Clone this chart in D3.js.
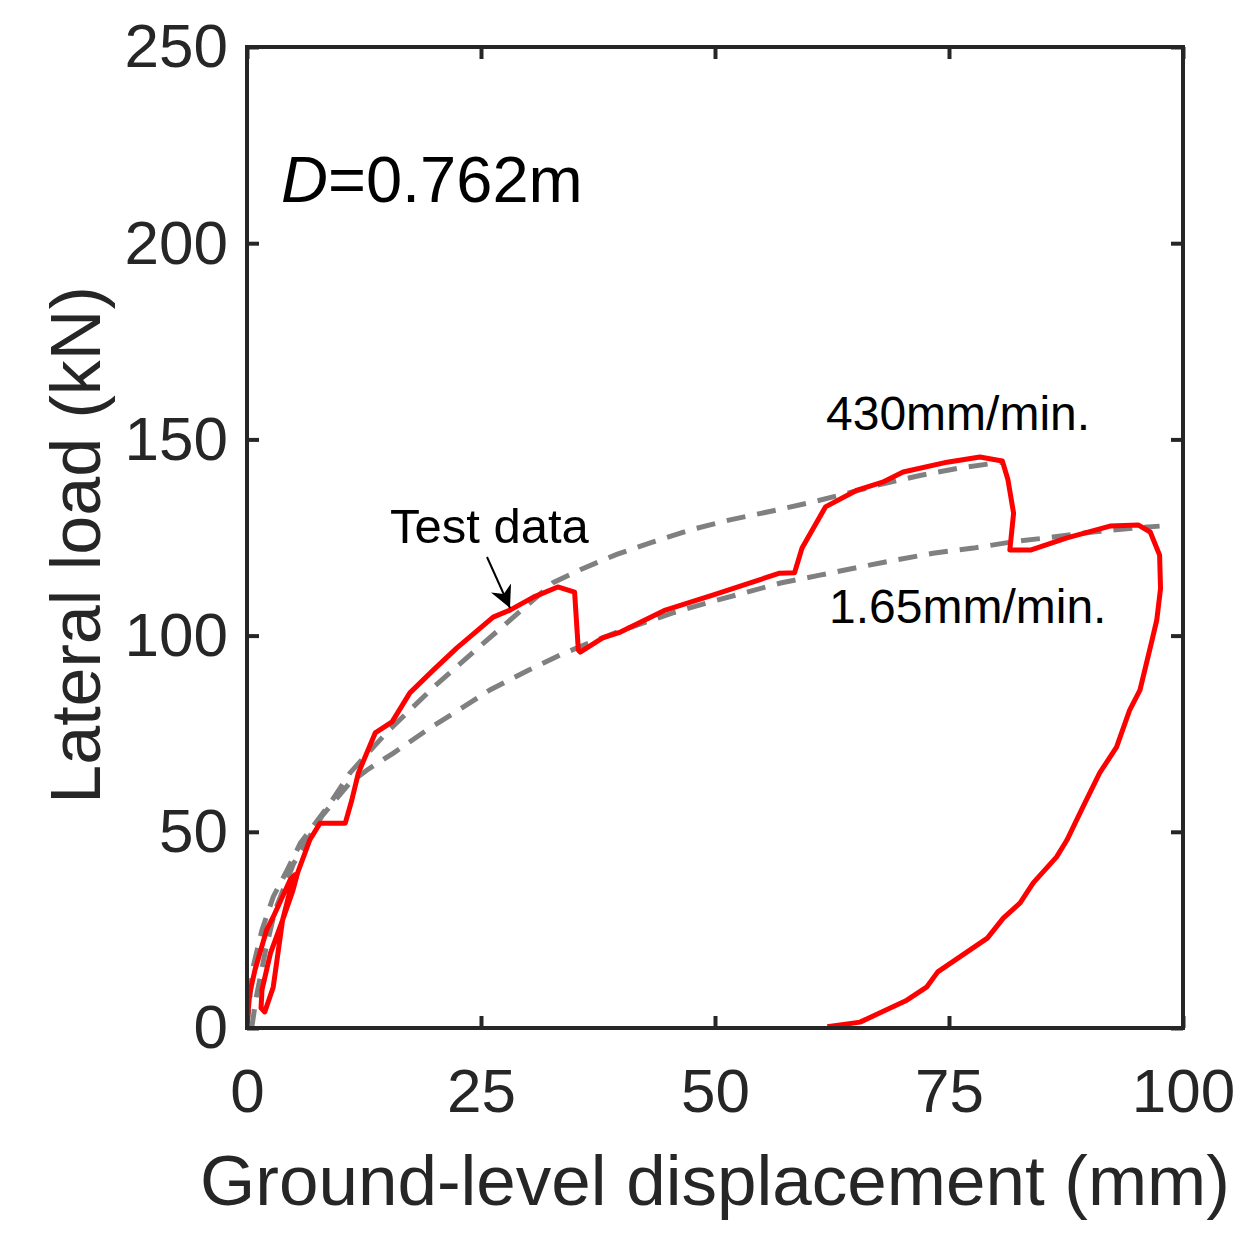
<!DOCTYPE html>
<html>
<head>
<meta charset="utf-8">
<script src="https://cdn.jsdelivr.net/npm/d3@7"></script>
<style>
  html, body { margin: 0; padding: 0; background: #fff; }
  svg { display: block; font-family: Arial, "Liberation Sans", sans-serif; }
</style>
</head>
<body>
<div id="chart"></div>
<script>
// test data, ground-level displacement (mm) vs lateral load (kN)
const testX = [0, 0.3, 0.85, 2.1, 2.8, 4.6, 5.1, 4.6, 3.8, 2.8, 1.9, 1.5, 1.6, 2.5, 3.8, 4.9, 5.4, 6.7, 7.8, 10.5,
  11.2, 11.9, 13.7, 15.5, 17.4, 19.9, 22.4, 26.3, 28.1, 30.6, 33.2, 35, 35.4, 35.6, 38, 39.9, 44.7, 50, 56.9, 58.5,
  59.3, 61.8, 65.2, 67.9, 70.1, 74.8, 78.3, 80.7, 81.3, 81.9, 81.5, 83.7, 87.6, 92.2, 95.2, 96.5, 97.5, 97.6, 97.2,
  96.7, 95.4, 94.3, 92.9, 91.1, 89.3, 87.6, 86.5, 84, 82.6, 80.8, 79.1, 73.8, 72.6, 70.5, 65.5, 62]
const testY = [1.3, 8.9, 14.8, 25, 28.3, 37.7, 39, 35, 27.5, 10.4, 4.1, 5.1, 9.7, 19, 27.5, 35, 39.5, 47.9, 52.2, 52.2,
  58.1, 65, 75.2, 78, 85.4, 91.2, 96.8, 104.7, 106.5, 109.8, 112.4, 111.1, 96.3, 95.8, 99.4, 100.9, 106.5, 110.5, 115.9, 116,
  122.3, 132.8, 137.1, 139.1, 141.7, 144.2, 145.5, 144.5, 139.7, 131.2, 121.8, 121.8, 124.9, 127.9, 128.2, 126.4, 120.5, 112, 104,
  98.9, 86.1, 81, 71.6, 65, 56.3, 47.9, 43.6, 37, 31.9, 28, 22.9, 14.3, 10.4, 7.1, 1.5, 0.3]

// fitted curve, 430 mm/min
const fastX = [0, 0.6, 1.6, 2.8, 4.3, 5.7, 8.9, 11, 15, 20, 25, 32.7, 35.6, 39.5, 43.4, 47.3, 51.6, 55.6, 59.8, 63.4, 67.3, 71.9, 75.9, 79.7, 80.8]
const fastY = [0, 15, 25, 33.4, 40.3, 47.1, 57.3, 65, 75.5, 87, 97.5, 113.5, 116.8, 120.7, 123.9, 126.9, 129.5, 131.5, 133.7, 135.8, 138.3, 140.8, 142.6, 143.9, 144.2]

// fitted curve, 1.65 mm/min
const slowX = [0.5, 1, 2, 3, 5, 8, 11, 12.8, 15.6, 19.2, 22.8, 26, 29.9, 33.4, 36, 40, 45.5, 49.1, 57, 61.2, 65.5, 69.4, 73.3, 77.6, 81.8, 86.1, 90.4, 94.7, 97.5]
const slowY = [0, 8, 20, 30, 42, 54, 62.5, 65.7, 70, 75.9, 81.3, 86.2, 91, 95, 97.6, 101.3, 105.8, 108.3, 113.4, 115.4, 117.5, 119.3, 121, 122.3, 123.9, 125.1, 126.4, 127.4, 127.9]

const xTicks = [0, 25, 50, 75, 100]
const yTicks = [0, 50, 100, 150, 200, 250]

const width = 1242
const height = 1233
const margin = { top: 47, right: 59, bottom: 205, left: 247 }

const svg = d3.create('svg')
  .attr('width', width)
  .attr('height', height)

const x = d3.scaleLinear().domain([0, 100]).range([margin.left, width - margin.right])
const y = d3.scaleLinear().domain([0, 250]).range([height - margin.bottom, margin.top])

const axisColor = '#262626'
const tickLen = 12

// clip to the plot box
svg.append('clipPath').attr('id', 'plot-clip')
  .append('rect')
  .attr('x', x(0)).attr('y', y(250))
  .attr('width', x(100) - x(0)).attr('height', y(0) - y(250))

const line = d3.line()

const plot = svg.append('g').attr('clip-path', 'url(#plot-clip)')

plot.append('path')
  .attr('d', line(fastX.map((v, i) => [x(v), y(fastY[i])])))
  .attr('fill', 'none')
  .attr('stroke', '#808080')
  .attr('stroke-width', 5)
  .attr('stroke-dasharray', '19 12')

plot.append('path')
  .attr('d', line(slowX.map((v, i) => [x(v), y(slowY[i])])))
  .attr('fill', 'none')
  .attr('stroke', '#808080')
  .attr('stroke-width', 5)
  .attr('stroke-dasharray', '19 12')

plot.append('path')
  .attr('d', line(testX.map((v, i) => [x(v), y(testY[i])])))
  .attr('fill', 'none')
  .attr('stroke', '#ff0000')
  .attr('stroke-width', 5)
  .attr('stroke-linejoin', 'round')

// axes (ticks point inward, mirrored on top/right)
const axisFont = 62
const gx = svg.append('g')
  .attr('transform', `translate(0,${y(0)})`)
  .call(d3.axisBottom(x).tickValues(xTicks).tickSizeInner(-tickLen).tickSizeOuter(0).tickPadding(40))
const gy = svg.append('g')
  .attr('transform', `translate(${x(0)},0)`)
  .call(d3.axisLeft(y).tickValues(yTicks).tickSizeInner(-tickLen).tickSizeOuter(0).tickPadding(19))
const gxTop = svg.append('g')
  .attr('transform', `translate(0,${y(250)})`)
  .call(d3.axisTop(x).tickValues(xTicks).tickSizeInner(-tickLen).tickSizeOuter(0).tickFormat(''))
const gyRight = svg.append('g')
  .attr('transform', `translate(${x(100)},0)`)
  .call(d3.axisRight(y).tickValues(yTicks).tickSizeInner(-tickLen).tickSizeOuter(0).tickFormat(''))

;[gx, gy, gxTop, gyRight].forEach(g => {
  g.select('.domain').remove()
  g.selectAll('line').attr('stroke', axisColor).attr('stroke-width', 4)
  g.selectAll('text')
    .attr('fill', axisColor)
    .attr('font-size', axisFont)
    .attr('font-family', 'Arial, "Liberation Sans", sans-serif')
})
gx.selectAll('text').attr('dy', '0.71em')

svg.append('rect')
  .attr('x', x(0)).attr('y', y(250))
  .attr('width', x(100) - x(0)).attr('height', y(0) - y(250))
  .attr('fill', 'none')
  .attr('stroke', axisColor)
  .attr('stroke-width', 4)

// axis titles
svg.append('text')
  .attr('x', 715)
  .attr('y', 1205)
  .attr('text-anchor', 'middle')
  .attr('font-size', 71)
  .attr('fill', axisColor)
  .text('Ground-level displacement (mm)')

svg.append('text')
  .attr('transform', `translate(100,545) rotate(-90)`)
  .attr('text-anchor', 'middle')
  .attr('font-size', 70)
  .attr('fill', axisColor)
  .text('Lateral load (kN)')

// annotations
const dLabel = svg.append('text')
  .attr('x', 281)
  .attr('y', 202)
  .attr('font-size', 65)
  .attr('fill', '#000')
dLabel.append('tspan').attr('font-style', 'italic').text('D')
dLabel.append('tspan').text('=0.762m')

svg.append('text')
  .attr('x', 826).attr('y', 430)
  .attr('font-size', 48).attr('fill', '#000')
  .text('430mm/min.')

svg.append('text')
  .attr('x', 829).attr('y', 623)
  .attr('font-size', 48).attr('fill', '#000')
  .text('1.65mm/min.')

svg.append('text')
  .attr('x', 390).attr('y', 543)
  .attr('font-size', 49).attr('fill', '#000')
  .text('Test data')

// arrow to the test curve
svg.append('defs').append('marker')
  .attr('id', 'arrow')
  .attr('viewBox', '0 0 10 10')
  .attr('refX', 10).attr('refY', 5)
  .attr('markerWidth', 11).attr('markerHeight', 11)
  .attr('markerUnits', 'strokeWidth')
  .attr('orient', 'auto')
  .append('path')
  .attr('d', 'M0,0 L10,5 L0,10 L3,5 Z')
  .attr('fill', '#000')

svg.append('line')
  .attr('x1', 487).attr('y1', 557)
  .attr('x2', x(28.1)).attr('y2', y(106.5) - 2)
  .attr('stroke', '#000')
  .attr('stroke-width', 2)
  .attr('marker-end', 'url(#arrow)')

document.getElementById('chart').appendChild(svg.node())
</script>
</body>
</html>
